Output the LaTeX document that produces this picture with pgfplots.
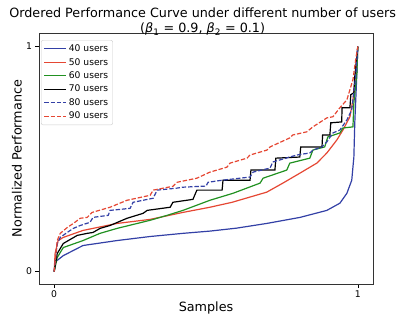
\documentclass[border=0pt]{standalone}
\usepackage{fontspec}
\setmainfont{DejaVu Sans}
\usepackage{pgfplots}
\pgfplotsset{compat=1.18}
\definecolor{cblue}{rgb}{0.2,0.25,0.65}
\definecolor{cred}{rgb}{0.9,0.28,0.2}
\definecolor{cgreen}{rgb}{0.13,0.57,0.13}
\begin{document}
\begin{tikzpicture}
\path[use as bounding box] (-39bp,-36bp) rectangle (364bp,284bp);
\begin{axis}[
  scale only axis, width=334bp, height=251bp,
  xmin=-0.05, xmax=1.05, ymin=-0.055, ymax=1.06,
  xtick={0,1}, ytick={0,1},
  tick align=outside, tick pos=left,
  major tick length=3.5bp,
  tick style={black, line width=0.6bp},
  axis line style={black!80, line width=0.7bp},
  /pgf/number format/assume math mode=true,
  ticklabel style={font=\fontsize{9.3}{11}\selectfont},
  title={Ordered Performance Curve under different number of users\\(\textit{β}\textsubscript{1} = 0.9, \textit{β}\textsubscript{2} = 0.1)},
  title style={at={(axis description cs:0.49,1)}, anchor=south, yshift=-12bp, align=center, font=\fontsize{12.8}{15}\selectfont},
  xlabel={Samples},
  xlabel style={at={(axis description cs:0.5,-0.096)}, anchor=center, font=\fontsize{12.8}{15}\selectfont},
  ylabel={Normalized Performance},
  ylabel style={at={(axis description cs:-0.066,0.5)}, anchor=center, rotate=0, font=\fontsize{12.8}{15}\selectfont},
  legend style={at={(axis description cs:0.006,0.972)}, anchor=north west, draw=black!20, rounded corners=2bp, font=\fontsize{9.2}{11}\selectfont, row sep=1.2bp, inner sep=2.5bp},
  legend cell align=left,
  legend image code/.code={\draw[#1] (0bp,0bp) -- (22bp,0bp);},
  every axis plot/.append style={line width=1.2bp},
]
\addplot[cblue, line width=1.2bp] coordinates {(0,0) (0.003,0.04) (0.01,0.05) (0.03,0.071) (0.095,0.116) (0.207,0.138) (0.316,0.156) (0.424,0.170) (0.513,0.180) (0.60,0.193) (0.70,0.214) (0.81,0.241) (0.898,0.272) (0.941,0.304) (0.964,0.348) (0.980,0.406) (0.987,0.509) (0.990,0.661) (0.997,0.884) (1,1)};
\addlegendentry{40 users}
\addplot[cred, line width=1.2bp] coordinates {(0,0) (0.003,0.08) (0.013,0.138) (0.03,0.152) (0.095,0.183) (0.207,0.214) (0.316,0.232) (0.424,0.263) (0.513,0.286) (0.586,0.308) (0.70,0.353) (0.753,0.393) (0.81,0.438) (0.865,0.482) (0.898,0.527) (0.931,0.585) (0.951,0.629) (0.974,0.688) (0.984,0.763) (0.993,0.884) (1,1)};
\addlegendentry{50 users}
\addplot[cgreen, line width=1.2bp] coordinates {(0,0) (0.01,0.0625) (0.03,0.107) (0.095,0.138) (0.151,0.170) (0.207,0.192) (0.316,0.228) (0.372,0.25) (0.424,0.272) (0.513,0.317) (0.589,0.348) (0.678,0.393) (0.688,0.415) (0.766,0.451) (0.776,0.482) (0.842,0.504) (0.852,0.54) (0.891,0.554) (0.901,0.598) (0.941,0.616) (0.951,0.638) (0.984,0.643) (0.987,0.75) (0.997,0.884) (1,1)};
\addlegendentry{60 users}
\addplot[black, line width=1.2bp] coordinates {(0,0) (0.01,0.08) (0.03,0.125) (0.076,0.161) (0.109,0.17) (0.128,0.174) (0.151,0.192) (0.184,0.205) (0.240,0.237) (0.293,0.259) (0.306,0.272) (0.382,0.286) (0.391,0.308) (0.457,0.321) (0.470,0.362) (0.553,0.362) (0.556,0.406) (0.645,0.406) (0.648,0.451) (0.727,0.451) (0.730,0.504) (0.809,0.509) (0.812,0.554) (0.882,0.554) (0.884,0.607) (0.908,0.607) (0.911,0.661) (0.947,0.665) (0.948,0.728) (0.974,0.728) (0.977,0.786) (0.987,0.795) (0.990,0.866) (1,1)};
\addlegendentry{70 users}
\addplot[cblue, line width=1.2bp, dash pattern=on 4.4bp off 1.9bp] coordinates {(0,0) (0.01,0.125) (0.02,0.152) (0.043,0.174) (0.063,0.192) (0.086,0.205) (0.118,0.219) (0.128,0.241) (0.178,0.25) (0.184,0.272) (0.25,0.281) (0.26,0.308) (0.326,0.326) (0.339,0.362) (0.405,0.371) (0.424,0.375) (0.5,0.38) (0.507,0.397) (0.553,0.406) (0.645,0.420) (0.655,0.442) (0.711,0.46) (0.72,0.487) (0.799,0.518) (0.842,0.527) (0.852,0.54) (0.882,0.554) (0.898,0.576) (0.918,0.616) (0.941,0.629) (0.964,0.674) (0.980,0.719) (0.984,0.763) (0.993,0.866) (1,1)};
\addlegendentry{80 users}
\addplot[cred, line width=1.2bp, dash pattern=on 4.4bp off 1.9bp] coordinates {(0,0) (0.01,0.138) (0.02,0.170) (0.043,0.196) (0.063,0.214) (0.086,0.237) (0.109,0.241) (0.125,0.263) (0.184,0.286) (0.240,0.317) (0.316,0.339) (0.326,0.362) (0.391,0.379) (0.405,0.397) (0.470,0.415) (0.513,0.442) (0.569,0.464) (0.579,0.482) (0.635,0.504) (0.645,0.518) (0.701,0.540) (0.711,0.554) (0.776,0.594) (0.786,0.607) (0.832,0.621) (0.852,0.643) (0.898,0.683) (0.918,0.688) (0.941,0.728) (0.964,0.763) (0.974,0.808) (0.984,0.853) (0.993,0.942) (1,1)};
\addlegendentry{90 users}
\end{axis}
\end{tikzpicture}
\end{document}
